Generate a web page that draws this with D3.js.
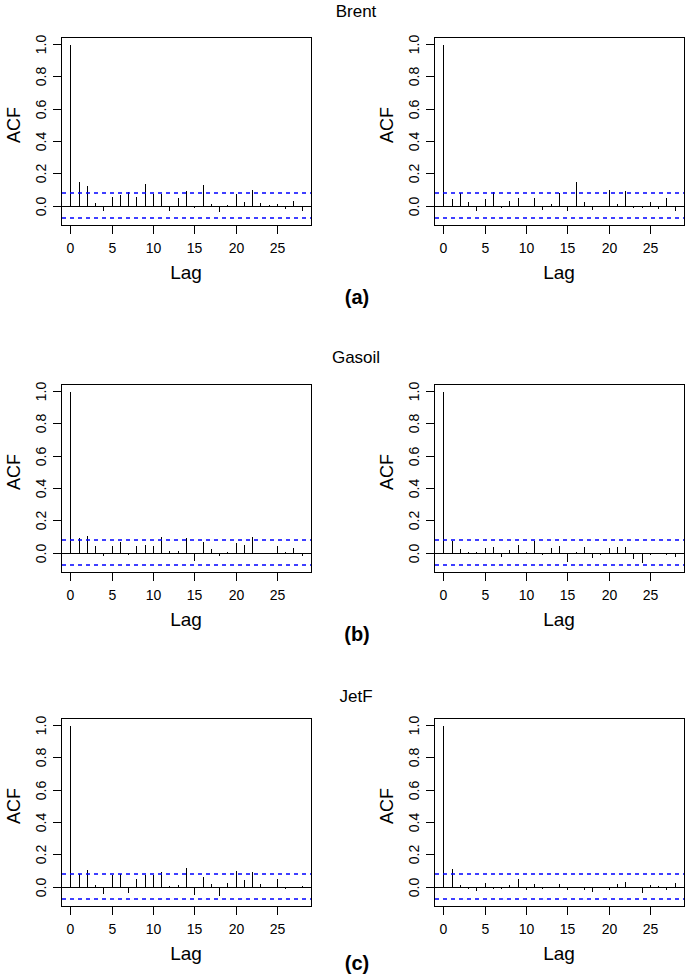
<!DOCTYPE html>
<html>
<head>
<meta charset="utf-8">
<script src="https://cdn.jsdelivr.net/npm/d3@7"></script>
<style>
  html, body { margin: 0; padding: 0; background: #fff; }
  svg { display: block; font-family: "Liberation Sans", Arial, Helvetica, sans-serif; }
</style>
</head>
<body>
<svg id="chart" width="685" height="974"></svg>
<script>
// ---- Data ----
const lags = d3.range(0, 29);
const ciBound = 0.076;
const yTicks = [0.0, 0.2, 0.4, 0.6, 0.8, 1.0];
const xTicks = [0, 5, 10, 15, 20, 25];
const groupTitles = ["Brent", "Gasoil", "JetF"];
const groupLabels = ["(a)", "(b)", "(c)"];

const brentLeft = [1.0, 0.152, 0.126, 0.025, -0.029, 0.060, 0.072, 0.093, 0.062, 0.142,
  0.078, 0.078, -0.029, 0.051, 0.099, -0.005, 0.134, 0.019, -0.031, 0.012,
  0.080, 0.031, 0.105, 0.025, 0.010, 0.019, -0.014, 0.037, -0.027];
const brentRight = [1.0, 0.045, 0.084, 0.031, -0.027, 0.045, 0.093, -0.010, 0.037, 0.054,
  0.003, 0.051, -0.021, 0.014, 0.084, -0.027, 0.154, 0.029, -0.021, 0.002,
  0.105, 0.019, 0.097, -0.010, -0.010, 0.031, -0.014, 0.051, -0.027];
const gasoilLeft = [1.0, 0.097, 0.107, 0.049, -0.016, 0.047, 0.070, -0.010, 0.047, 0.053,
  0.049, 0.103, 0.014, 0.016, 0.099, -0.045, 0.072, 0.029, -0.014, 0.012,
  0.064, 0.051, 0.103, -0.003, 0.002, 0.047, 0.008, 0.037, -0.012];
const gasoilRight = [1.0, 0.076, 0.027, 0.012, 0.008, 0.037, 0.041, -0.019, 0.025, 0.056,
  0.010, 0.076, -0.010, 0.035, 0.045, -0.051, 0.010, 0.041, -0.027, -0.008,
  0.035, 0.041, 0.041, -0.033, -0.056, -0.010, 0.002, -0.008, -0.023];
const jetfLeft = [1.0, 0.086, 0.107, 0.019, -0.037, 0.076, 0.084, -0.031, 0.053, 0.076,
  0.076, 0.095, 0.012, 0.019, 0.119, -0.043, 0.066, 0.025, -0.049, 0.031,
  0.101, 0.047, 0.097, 0.021, 0.002, 0.053, -0.010, 0.004, 0.010];
const jetfRight = [1.0, 0.117, 0.016, -0.008, -0.021, 0.031, -0.008, -0.008, 0.014, 0.056,
  -0.014, 0.023, -0.010, -0.004, 0.025, -0.014, -0.004, -0.014, -0.027, 0.002,
  -0.012, 0.025, 0.037, -0.004, -0.031, 0.016, 0.008, -0.014, 0.027];

const panelRows = [
  [brentLeft, brentRight],
  [gasoilLeft, gasoilRight],
  [jetfLeft, jetfRight]
];

// ---- Layout ----
const svg = d3.select("#chart");
const colLeft = [61, 434];
const boxW = 250;
const boxH = 188;
const rowTop = [37, 384, 718];
const titleX = 356;
const titleY = [17, 363, 702];
const labelY = [304, 641, 970];

const xDomain = [-1.12, 29.12];
const yDomain = [-0.119, 1.043];
const px = v => Math.round(v) + 0.5;

rowTop.forEach((top, r) => {
  svg.append("text")
    .attr("x", titleX).attr("y", titleY[r])
    .attr("text-anchor", "middle")
    .attr("font-size", 17)
    .text(groupTitles[r]);

  svg.append("text")
    .attr("x", titleX + 1).attr("y", labelY[r])
    .attr("text-anchor", "middle")
    .attr("font-size", 20)
    .attr("font-weight", "bold")
    .text(groupLabels[r]);

  colLeft.forEach((left, c) => {
    const vals = panelRows[r][c];
    const x = d3.scaleLinear().domain(xDomain).range([left, left + boxW]);
    const y = d3.scaleLinear().domain(yDomain).range([top + boxH, top]);
    const g = svg.append("g").attr("shape-rendering", "crispEdges");

    g.append("rect")
      .attr("x", left + 0.5).attr("y", top + 0.5)
      .attr("width", boxW).attr("height", boxH)
      .attr("fill", "none").attr("stroke", "#000").attr("stroke-width", 1);

    g.append("line")
      .attr("x1", left).attr("x2", left + boxW)
      .attr("y1", px(y(0))).attr("y2", px(y(0)))
      .attr("stroke", "#000").attr("stroke-width", 1);

    // confidence bounds (antialiased so the blue survives)
    [ciBound, -ciBound].forEach(v => {
      svg.append("line")
        .attr("x1", left + 1).attr("x2", left + boxW)
        .attr("y1", Math.round(y(v))).attr("y2", Math.round(y(v)))
        .attr("stroke", "#0000ff").attr("stroke-width", 1.3)
        .attr("stroke-dasharray", "4,4");
    });

    g.selectAll("line.bar").data(lags).enter().append("line")
      .attr("class", "bar")
      .attr("x1", d => px(x(d))).attr("x2", d => px(x(d)))
      .attr("y1", px(y(0))).attr("y2", d => px(y(vals[d])))
      .attr("stroke", "#000").attr("stroke-width", 1);

    const xAxis = d3.axisBottom(x).tickValues(xTicks).tickSize(8).tickPadding(4)
      .tickFormat(d3.format("d"));
    const gx = g.append("g").attr("transform", `translate(0.5,${top + boxH + 0.5})`).call(xAxis);
    gx.select(".domain").attr("d", `M${Math.round(x(0))},0H${Math.round(x(25))}`).attr("stroke", "#000");
    gx.selectAll(".tick").attr("transform", d => `translate(${Math.round(x(d))},0)`);
    gx.selectAll(".tick line").attr("stroke", "#000");
    gx.selectAll("text").attr("font-size", 14).attr("fill", "#000")
      .attr("font-family", "Liberation Sans, Arial, sans-serif")
      .attr("dy", null).attr("y", 27.5);

    const yAxis = d3.axisLeft(y).tickValues(yTicks).tickSize(9)
      .tickFormat(d3.format(".1f"));
    const gy = g.append("g").attr("transform", `translate(${left + 0.5},0.5)`).call(yAxis);
    gy.select(".domain").attr("d", `M0,${Math.round(y(0))}V${Math.round(y(1))}`).attr("stroke", "#000");
    gy.selectAll(".tick").attr("transform", d => `translate(0,${Math.round(y(d))})`);
    gy.selectAll(".tick line").attr("stroke", "#000");
    gy.selectAll("text")
      .attr("font-size", 14).attr("fill", "#000")
      .attr("font-family", "Liberation Sans, Arial, sans-serif")
      .attr("x", null).attr("dy", null)
      .attr("text-anchor", "middle")
      .attr("transform", "translate(-16,0) rotate(-90)");

    svg.append("text")
      .attr("x", left + boxW / 2).attr("y", top + boxH + 54)
      .attr("text-anchor", "middle").attr("font-size", 19)
      .text("Lag");
    svg.append("text")
      .attr("transform", `translate(${left - 41},${top + 88}) rotate(-90)`)
      .attr("text-anchor", "middle").attr("font-size", 18)
      .text("ACF");
  });
});
</script>
</body>
</html>
